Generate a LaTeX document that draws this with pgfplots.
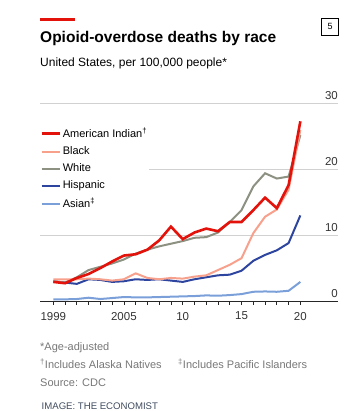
\documentclass[border=0pt]{standalone}
\usepackage{fontspec}
\setmainfont{Liberation Sans}
\usepackage{pgfplots}
\usepackage{pgfplotstable}
\pgfplotsset{compat=1.18}
\definecolor{ecored}{HTML}{E3120B}
\definecolor{cblack}{HTML}{F7A08C}
\definecolor{cwhite}{HTML}{8C9182}
\definecolor{chisp}{HTML}{2E45A0}
\definecolor{casian}{HTML}{7A9FD9}
\definecolor{fgray}{HTML}{777777}
\definecolor{slate}{HTML}{3F4B5E}
\pgfplotstableread{
year ai black white hisp asian
1999 2.9 3.3 3.0 3.0 0.25
2000 2.7 3.3 2.8 2.8 0.25
2001 3.5 3.3 3.6 2.6 0.3
2002 4.1 3.4 4.7 3.3 0.5
2003 5.0 3.3 5.2 3.2 0.3
2004 6.0 3.1 5.7 2.9 0.45
2005 6.9 3.3 6.3 3.0 0.6
2006 7.1 4.2 7.2 3.3 0.55
2007 7.8 3.5 7.8 3.2 0.55
2008 9.2 3.3 8.3 3.3 0.6
2009 11.3 3.5 8.7 3.1 0.65
2010 9.4 3.4 9.1 2.9 0.7
2011 10.4 3.7 9.6 3.3 0.75
2012 11.0 3.9 9.7 3.6 0.85
2013 10.6 4.7 10.4 3.9 0.8
2014 12.0 5.5 12.0 4.0 0.9
2015 12.0 6.5 13.8 4.6 1.05
2016 13.8 10.3 17.4 6.1 1.4
2017 15.7 12.8 19.4 7.0 1.45
2018 14.1 13.9 18.6 7.7 1.4
2019 17.6 16.9 18.9 8.8 1.55
2020 27.3 26.0 25.2 13.0 2.9
}\data
\begin{document}
\begin{tikzpicture}[x=1pt,y=1pt]
\useasboundingbox (0,0) rectangle (361,411);
\fill[ecored] (40,390) rectangle (75,392.8);
\node[anchor=base west, inner sep=0pt, font=\fontsize{15.5}{18}\selectfont\bfseries] at (40,368.3) {Opioid-overdose deaths by race};
\node[anchor=base west, inner sep=0pt, font=\fontsize{12}{15}\selectfont] at (40,344.3) {United States, per 100,000 people*};
\draw[line width=0.8pt] (321.5,376) rectangle (338.5,393);
\node[font=\fontsize{9}{10}\selectfont] at (330,384.5) {5};
\begin{axis}[
  at={(40pt,110pt)}, anchor=south west, scale only axis,
  width=298pt, height=197.5pt,
  xmin=1997.87, xmax=2023.2, ymin=0, ymax=30,
  axis x line*=bottom, axis y line*=right,
  y axis line style={draw=none},
  x axis line style={line width=0.9pt, color=black!85},
  xtick={1999,2005,2010,2015,2020},
  xticklabels={1999,2005,10,15,20},
  minor xtick={2000,...,2019},
  tick align=outside, major tick length=4pt, minor tick length=4pt,
  xtick style={line width=0.7pt, color=black!85},
  ytick={0,10,20,30}, ytick style={draw=none},
  ymajorgrids, grid style={line width=0.6pt, color=black!18},
  tick label style={font=\fontsize{11.5}{13}\selectfont, text=black!80},
  /pgf/number format/assume math mode=true,
  yticklabel style={anchor=south east, inner xsep=0pt, xshift=-4pt},
  xticklabel style={yshift=-3.5pt},
  legend style={at={(rel axis cs:0,0.886)}, anchor=north west, draw=none, fill=white,
    font=\fontsize{11}{13}\selectfont, inner xsep=0pt, inner ysep=0pt, row sep=3.6pt,
    /tikz/every even column/.append style={column sep=4pt}},
  legend cell align=left, reverse legend,
  legend image code/.code={\draw[#1] (0pt,0pt) -- (18pt,0pt);},
]
\addplot[casian, line width=2pt] table[x=year,y=asian] {\data};
\addlegendentry{Asian\textsuperscript{‡}}
\addplot[chisp, line width=2pt] table[x=year,y=hisp] {\data};
\addlegendentry{Hispanic}
\addplot[cwhite, line width=2pt] table[x=year,y=white] {\data};
\addlegendentry{White}
\addplot[cblack, line width=2pt] table[x=year,y=black] {\data};
\addlegendentry{Black}
\addplot[ecored, line width=2.6pt] table[x=year,y=ai] {\data};
\addlegendentry{American Indian\textsuperscript{†}}
\end{axis}
\node[anchor=base west, inner sep=0pt, font=\fontsize{11}{13}\selectfont, text=fgray] at (40,60) {*Age-adjusted};
\node[anchor=base west, inner sep=0pt, font=\fontsize{11}{13}\selectfont, text=fgray] at (40,42.7) {\textsuperscript{†}Includes Alaska Natives};
\node[anchor=base west, inner sep=0pt, font=\fontsize{11}{13}\selectfont, text=fgray] at (178,42.7) {\textsuperscript{‡}Includes Pacific Islanders};
\node[anchor=base west, inner sep=0pt, font=\fontsize{11}{13}\selectfont, text=fgray] at (40,24.3) {Source: CDC};
\node[anchor=base west, inner sep=0pt, font=\fontsize{9.6}{10}\selectfont, text=slate] at (41.5,1.7) {IMAGE: THE ECONOMIST};
\end{tikzpicture}
\end{document}
